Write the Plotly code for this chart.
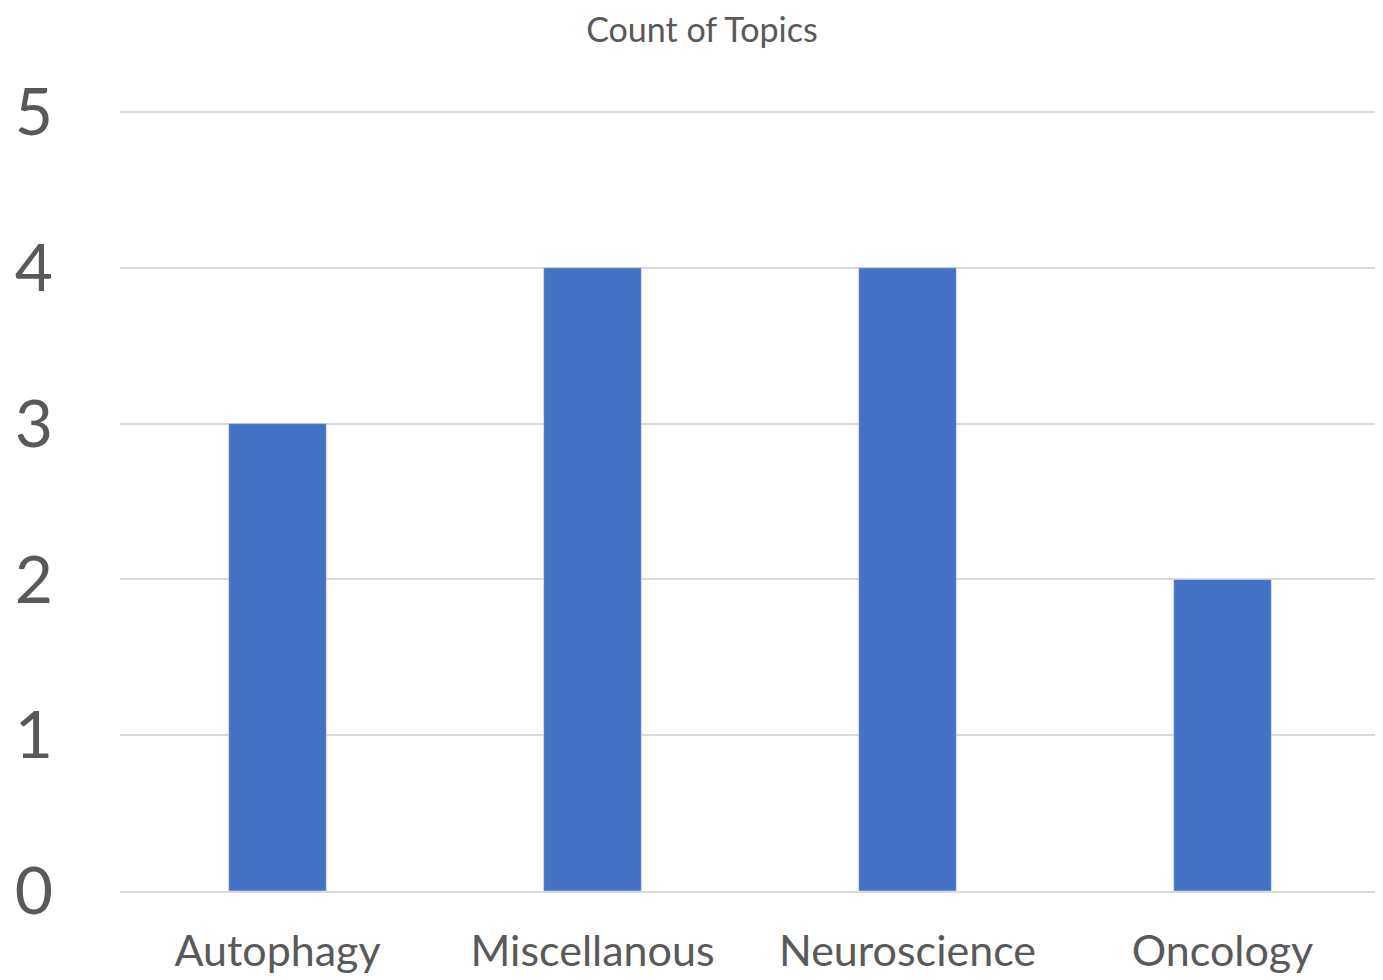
import plotly.graph_objects as go

categories = ["Autophagy", "Miscellanous", "Neuroscience", "Oncology"]
counts = [3, 4, 4, 2]
y_ticks = [0, 1, 2, 3, 4, 5]

fig = go.Figure(go.Bar(x=categories, y=counts, marker_color="#4472C4", width=0.31))

fig.update_layout(
    width=1375, height=972,
    margin=dict(l=112, r=3, t=102, b=89),
    paper_bgcolor="white", plot_bgcolor="white",
    font=dict(family="Lato", color="#595959"),
    title=dict(text="Count of Topics", x=0.5047, xanchor="center", y=0.9775, yanchor="middle",
               font=dict(size=34, color="#595959")),
    showlegend=False,
)
fig.update_xaxes(showgrid=False, showline=True, linecolor="#D9D9D9", linewidth=1.5,
                 tickfont=dict(size=43), ticks="", ticklabelstandoff=22)
fig.update_yaxes(range=[0, 5.013], tickvals=y_ticks, showgrid=True, gridcolor="#D9D9D9", gridwidth=1.5,
                 zeroline=False, tickfont=dict(size=66), ticks="", ticklabelstandoff=66)

fig.write_html("out.html")
